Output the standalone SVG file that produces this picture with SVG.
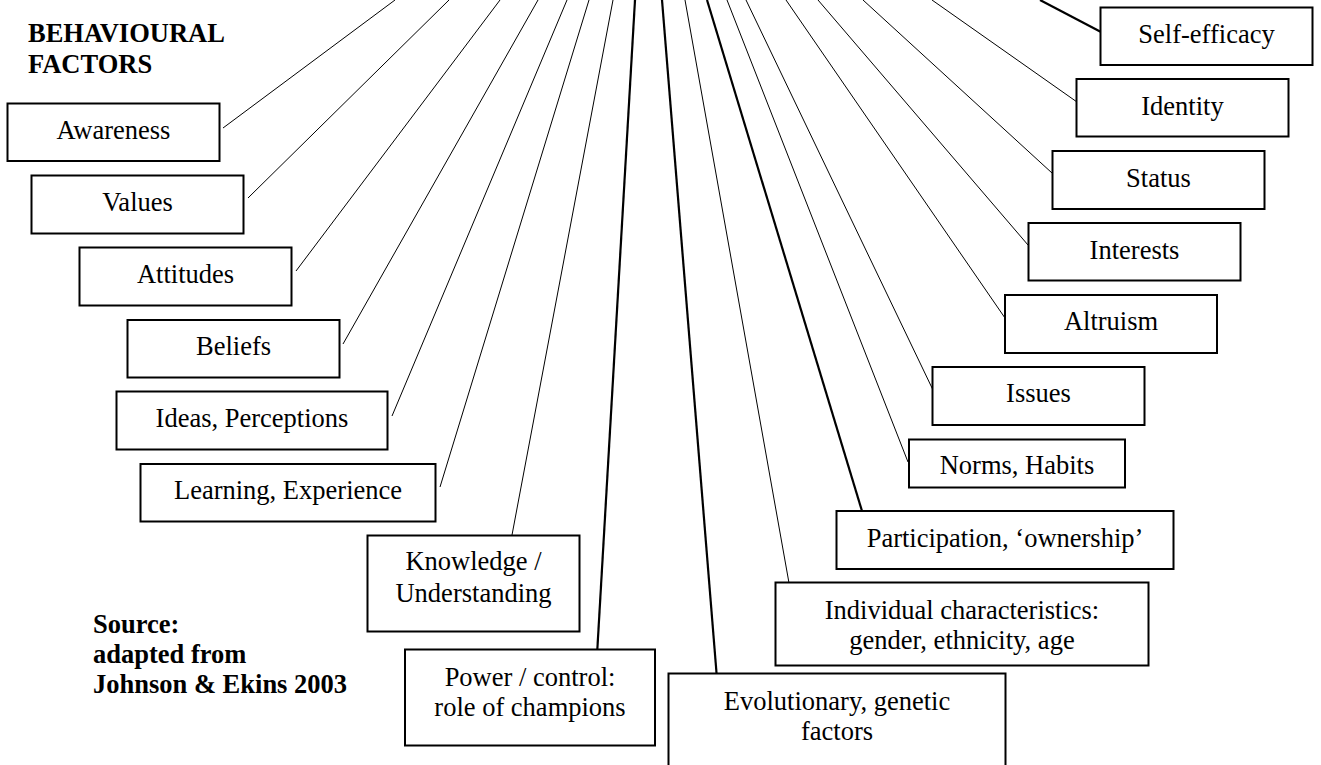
<svg xmlns="http://www.w3.org/2000/svg" width="1321" height="765" viewBox="0 0 1321 765">
<style>
.box rect{fill:#fff;stroke:#000;stroke-width:2}
text{font-family:"Liberation Serif","Times New Roman",serif;font-size:26.5px;fill:#000}
.box text{text-anchor:middle}
.lbl{font-weight:bold}
.c line{stroke:#000;stroke-width:1}
.c line.t{stroke-width:2.2}
</style>
<rect width="1321" height="765" fill="#fff"/>
<g class="c" id="connectors">
<line x1="395" y1="0" x2="223" y2="128"/>
<line x1="449" y1="0" x2="248" y2="198"/>
<line x1="500" y1="0" x2="296" y2="271"/>
<line x1="538" y1="0" x2="343" y2="344"/>
<line x1="567" y1="0" x2="392" y2="416"/>
<line x1="589" y1="0" x2="440" y2="487"/>
<line x1="613" y1="0" x2="512" y2="535"/>
<line class="t" x1="635" y1="0" x2="597" y2="655"/>
<line class="t" x1="662" y1="0" x2="717" y2="679"/>
<line x1="685" y1="0" x2="789" y2="583"/>
<line class="t" x1="707" y1="0" x2="862" y2="511"/>
<line x1="727" y1="0" x2="908" y2="462"/>
<line x1="746" y1="0" x2="933" y2="390"/>
<line x1="786" y1="0" x2="1005" y2="318"/>
<line x1="818" y1="0" x2="1028" y2="245"/>
<line x1="863" y1="0" x2="1052" y2="173"/>
<line x1="932" y1="0" x2="1077" y2="102"/>
<line class="t" x1="1040" y1="0" x2="1101" y2="32"/>
</g>
<g id="title"><text class="lbl" x="28" y="42">BEHAVIOURAL</text><text class="lbl" x="28" y="73">FACTORS</text></g>
<g id="source"><text class="lbl" x="93" y="633">Source:</text><text class="lbl" x="93" y="663">adapted from</text><text class="lbl" x="93" y="693">Johnson &amp; Ekins 2003</text></g>
<g class="box" id="awareness"><rect x="7.5" y="103.5" width="212" height="57.5"/><text x="113.5" y="139">Awareness</text></g>
<g class="box" id="values"><rect x="31.5" y="175.5" width="212" height="58"/><text x="137.5" y="211">Values</text></g>
<g class="box" id="attitudes"><rect x="79.5" y="247.5" width="212" height="58"/><text x="185.5" y="283">Attitudes</text></g>
<g class="box" id="beliefs"><rect x="127.5" y="320" width="212" height="57.5"/><text x="233.5" y="355">Beliefs</text></g>
<g class="box" id="ideas"><rect x="116.5" y="391.5" width="271" height="58"/><text x="252" y="427">Ideas, Perceptions</text></g>
<g class="box" id="learning"><rect x="140.5" y="464" width="295" height="57.5"/><text x="288" y="499">Learning, Experience</text></g>
<g class="box" id="knowledge"><rect x="367.5" y="535.5" width="212" height="96"/><text x="473.5" y="570">Knowledge /</text><text x="473.5" y="601.5">Understanding</text></g>
<g class="box" id="power"><rect x="405" y="649.5" width="250" height="96"/><text x="530" y="686">Power / control:</text><text x="530" y="715.5">role of champions</text></g>
<g class="box" id="evolutionary"><rect x="668.5" y="673.5" width="337" height="110"/><text x="837" y="709.5">Evolutionary, genetic</text><text x="837" y="740">factors</text></g>
<g class="box" id="individual"><rect x="775.5" y="582.5" width="373" height="83"/><text x="962" y="618.5">Individual characteristics:</text><text x="962" y="648.5">gender, ethnicity, age</text></g>
<g class="box" id="participation"><rect x="836.5" y="511" width="337" height="58"/><text x="1005" y="547">Participation, ‘ownership’</text></g>
<g class="box" id="norms"><rect x="909" y="439.5" width="216" height="48"/><text x="1017" y="474">Norms, Habits</text></g>
<g class="box" id="issues"><rect x="932.5" y="367" width="212" height="58"/><text x="1038.5" y="402">Issues</text></g>
<g class="box" id="altruism"><rect x="1005" y="295" width="212" height="58"/><text x="1111" y="330">Altruism</text></g>
<g class="box" id="interests"><rect x="1028.5" y="223" width="212" height="57.5"/><text x="1134.5" y="258.5">Interests</text></g>
<g class="box" id="status"><rect x="1052.5" y="151" width="212" height="58"/><text x="1158.5" y="186.5">Status</text></g>
<g class="box" id="identity"><rect x="1076.5" y="79" width="212" height="57.5"/><text x="1182.5" y="115">Identity</text></g>
<g class="box" id="selfefficacy"><rect x="1100.5" y="7.5" width="212" height="57.5"/><text x="1206.5" y="43">Self-efficacy</text></g>
</svg>
